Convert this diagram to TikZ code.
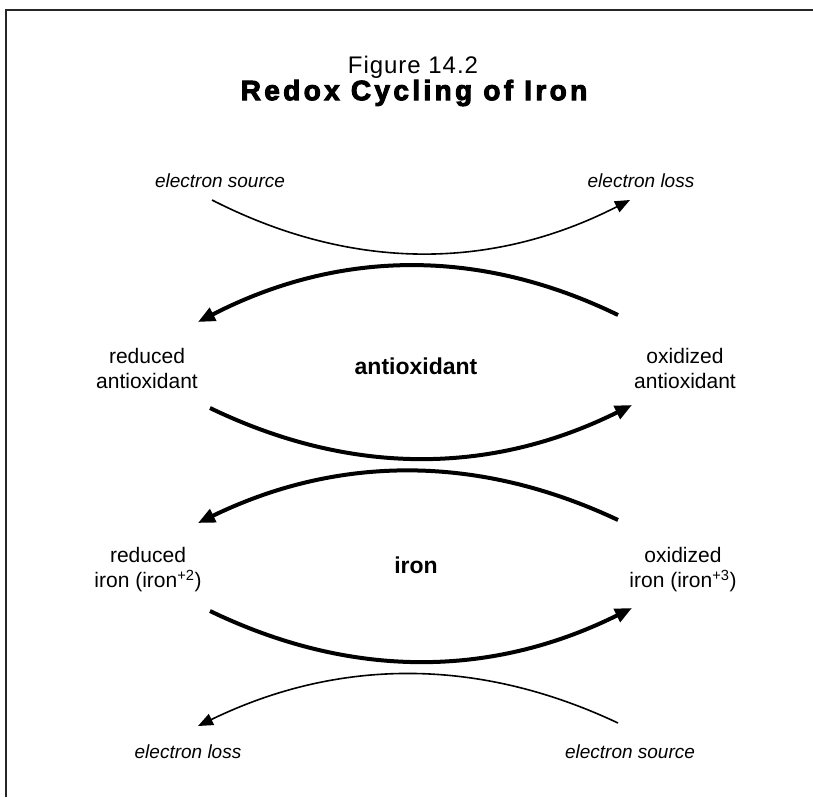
\documentclass[tikz,border=0pt]{standalone}
\usepackage{fontspec}
\setmainfont{Liberation Sans}
\newfontfamily\heavyfont{Liberation Sans Bold}[FakeBold=3.5,LetterSpace=12]
\newfontfamily\figfont{Liberation Sans}[LetterSpace=4]
\usetikzlibrary{arrows.meta}
\begin{document}
\begin{tikzpicture}[x=1pt,y=-1pt,
  lbl/.style={font=\fontsize{21}{25}\selectfont, align=center, inner sep=0pt},
  bold/.style={font=\fontsize{23}{27}\selectfont\bfseries, inner sep=0pt},
  elab/.style={font=\fontsize{19}{23}\selectfont\itshape, inner sep=0pt},
  thickarc/.style={line width=4pt, -{Triangle[length=17pt,width=14pt]}},
  thinarc/.style={line width=1.6pt, -{Triangle[length=15pt,width=12pt]}},
  frame/.style={line width=2.2pt, draw=black!85}]
\useasboundingbox (0,0) rectangle (813,797);
% frame (top and left edges)
\draw[frame] (6,797) -- (6,10) -- (813,10);
% titles
\node[font=\fontsize{24}{28}\selectfont\figfont, inner sep=0pt] (title1) at (413,67) {Figure 14.2};
\node[font=\fontsize{28}{32}\selectfont\heavyfont, inner sep=0pt] (title2) at (414,93) {Redox Cycling of Iron};
% electron labels
\node[elab] (es1) at (220,181) {electron source};
\node[elab] (el1) at (641,181) {electron loss};
\node[elab] (el2) at (188,752) {electron loss};
\node[elab] (es2) at (630,752) {electron source};
% species labels
\node[lbl] (redA) at (147,368) {reduced\\antioxidant};
\node[lbl] (oxA) at (685,368) {oxidized\\antioxidant};
\node[bold] (antiox) at (416,366) {antioxidant};
\node[lbl] (redFe) at (148,570) {reduced\\iron (iron\textsuperscript{+2})};
\node[lbl] (oxFe) at (683,570) {oxidized\\iron (iron\textsuperscript{+3})};
\node[bold] (iron) at (416,565) {iron};
% arc end coordinates
\coordinate (a1s) at (212,200); \coordinate (a1e) at (630,200);
\coordinate (a2s) at (618,315); \coordinate (a2e) at (198,322);
\coordinate (a3s) at (210,408); \coordinate (a3e) at (632,405);
\coordinate (a4s) at (618,520); \coordinate (a4e) at (198,523);
\coordinate (a5s) at (210,611); \coordinate (a5e) at (632,608);
\coordinate (a6s) at (618,723); \coordinate (a6e) at (198,726);
% arcs
\draw[thinarc] (a1s) .. controls (351,271) and (491,271) .. (a1e);
\draw[thickarc] (a2s) .. controls (478,247) and (338,250) .. (a2e);
\draw[thickarc] (a3s) .. controls (351,476) and (491,475) .. (a3e);
\draw[thickarc] (a4s) .. controls (478,454) and (338,455) .. (a4e);
\draw[thickarc] (a5s) .. controls (351,679) and (491,678) .. (a5e);
\draw[thinarc] (a6s) .. controls (478,657) and (338,658) .. (a6e);
\end{tikzpicture}
\end{document}
